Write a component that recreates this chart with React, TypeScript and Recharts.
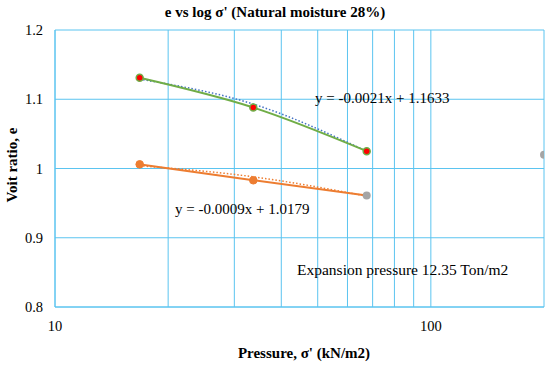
import React from 'react';
import { ComposedChart, Line, XAxis, YAxis, CartesianGrid, Scatter } from 'recharts';

const pressure = [16.8, 33.7, 67.5];
const eNatural = [1.131, 1.088, 1.025];
const eSecond = [1.006, 0.983, 0.961];
const trendNatural = [1.129, 1.093, 1.025];
const trendSecond = [1.004, 0.988, 0.960];
const grayPressure = [67.5, 200];
const grayE = [0.961, 1.02];
const xTicks = [10, 20, 30, 40, 50, 60, 70, 80, 90, 100, 200];
const xTickLabels = ['10', '', '', '', '', '', '', '', '', '100', ''];
const yTicks = [0.8, 0.9, 1.0, 1.1, 1.2];
const yTickLabels = ['0.8', '0.9', '1', '1.1', '1.2'];
const title = "e vs log σ' (Natural moisture 28%)";
const xTitle = "Pressure, σ' (kN/m2)";
const yTitle = 'Voit ratio, e';
const eq1 = 'y = -0.0021x + 1.1633';
const eq2 = 'y = -0.0009x + 1.0179';
const note = 'Expansion pressure 12.35 Ton/m2';

const green = pressure.map((x, i) => ({ x, y: eNatural[i] }));
const orange = pressure.map((x, i) => ({ x, y: eSecond[i] }));
const tGreen = pressure.map((x, i) => ({ x, y: trendNatural[i] }));
const tOrange = pressure.map((x, i) => ({ x, y: trendSecond[i] }));
const gray = grayPressure.map((x, i) => ({ x, y: grayE[i] }));

const FONT = '"Liberation Serif", "Times New Roman", serif';
const GRID = '#5BC4F0';

const RedDot = (props: any) => {
  const { cx, cy } = props;
  return <circle cx={cx} cy={cy} r={3.5} fill="#FF0000" stroke="#70AD47" strokeWidth={1.5} />;
};
const OrangeDot = (props: any) => {
  const { cx, cy, index } = props;
  if (index === pressure.length - 1) return <g key={index} />;
  return <circle cx={cx} cy={cy} r={3.8} fill="#ED7D31" stroke="#ED7D31" strokeWidth={1} />;
};

export default function App() {
  return (
    <div style={{ position: 'absolute', left: 0, top: 0, width: 551, height: 365, background: '#fff', fontFamily: FONT }}>
      <ComposedChart width={551} height={365} margin={{ top: 30, right: 7, bottom: 0, left: 0 }}>
        <CartesianGrid stroke={GRID} strokeWidth={1} />
        <XAxis
          type="number"
          dataKey="x"
          scale="log"
          domain={[10, 200]}
          ticks={xTicks}
          tickFormatter={(v: number) => xTickLabels[xTicks.indexOf(v)] ?? ''}
          allowDataOverflow
          axisLine={{ stroke: GRID }}
          tickLine={false}
          tick={{ fill: '#000', fontSize: 14.5, fontFamily: FONT }}
          tickMargin={8}
          height={58}
        />
        <YAxis
          type="number"
          domain={[0.8, 1.2]}
          ticks={yTicks}
          tickFormatter={(v: number) => yTickLabels[yTicks.indexOf(v)] ?? ''}
          axisLine={{ stroke: GRID }}
          tickLine={false}
          width={55}
          tickMargin={6}
          tick={{ fill: '#000', fontSize: 14.5, fontFamily: FONT }}
        />
        <Line data={tGreen} dataKey="y" type="monotone" stroke="#4472C4" strokeWidth={1.5} strokeDasharray="1.5 2" dot={false} isAnimationActive={false} />
        <Line data={tOrange} dataKey="y" type="monotone" stroke="#ED7D31" strokeWidth={1.5} strokeDasharray="1.5 2" dot={false} isAnimationActive={false} />
        <Line data={orange} dataKey="y" type="monotone" stroke="#ED7D31" strokeWidth={2} dot={<OrangeDot />} isAnimationActive={false} />
        <Line data={green} dataKey="y" type="monotone" stroke="#70AD47" strokeWidth={2} dot={<RedDot />} isAnimationActive={false} />
        <Scatter data={gray} dataKey="y" fill="#A5A5A5" shape={(p: any) => <circle cx={p.cx} cy={p.cy} r={4} fill="#A5A5A5" />} isAnimationActive={false} />
        <text x={275} y={17} textAnchor="middle" fontFamily={FONT} fontSize={15} fontWeight="bold" fill="#000">{title}</text>
        <text x={304} y={358} textAnchor="middle" fontFamily={FONT} fontSize={15} fontWeight="bold" fill="#000">{xTitle}</text>
        <text x={17} y={165} textAnchor="middle" transform="rotate(-90 17 165)" fontFamily={FONT} fontSize={15} fontWeight="bold" fill="#000">{yTitle}</text>
        <text x={315} y={103} fontFamily={FONT} fontSize={15} fill="#000">{eq1}</text>
        <text x={175} y={214} fontFamily={FONT} fontSize={15} fill="#000">{eq2}</text>
        <text x={297} y={275} fontFamily={FONT} fontSize={15.5} fill="#000">{note}</text>
      </ComposedChart>
    </div>
  );
}
